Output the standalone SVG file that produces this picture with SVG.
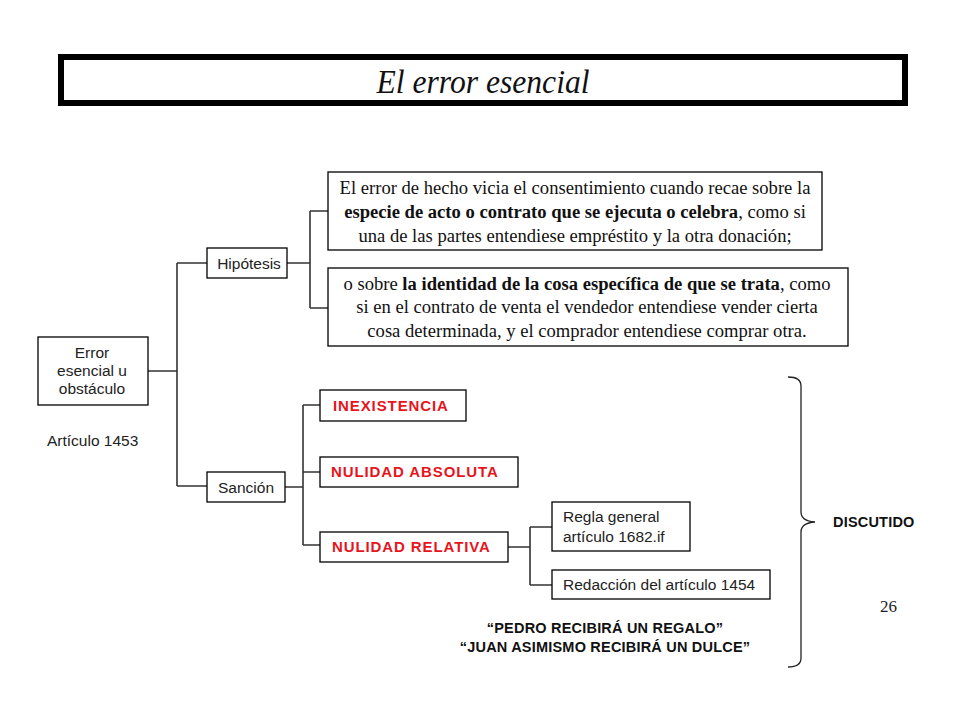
<svg xmlns="http://www.w3.org/2000/svg" width="960" height="720" viewBox="0 0 960 720">
<style>
.box{fill:#fff;stroke:#000;stroke-width:1.3}
.s{font-family:"Liberation Sans",Arial,sans-serif;font-size:15.5px;fill:#222}
.r{font-family:"Liberation Sans",Arial,sans-serif;font-size:15px;font-weight:bold;fill:#e8141c;letter-spacing:0.9px}
.b{font-family:"Liberation Sans",Arial,sans-serif;font-size:14.5px;font-weight:bold;fill:#111;letter-spacing:0.2px}
.t{font-family:"Liberation Serif","Times New Roman",serif;font-size:18.6px;fill:#111}
.c{fill:none;stroke:#333;stroke-width:1.6}
</style>
<rect width="960" height="720" fill="#fff"/>
<g id="title">
<rect x="61" y="57" width="844" height="46" fill="#fff" stroke="#000" stroke-width="6"/>
<text x="483" y="93" text-anchor="middle" textLength="213" lengthAdjust="spacingAndGlyphs" font-family="Liberation Serif,'Times New Roman',serif" font-style="italic" font-size="34" fill="#111">El error esencial</text>
</g>
<g id="connectors">
<path class="c" d="M148 371H177M177 263V486M177 263H207M177 486H207"/>
<path class="c" d="M287 263H310M310 211V308M310 211H328M310 308H328"/>
<path class="c" d="M285 487H303M303 405V545M303 405H320M303 472H320M303 545H320"/>
<path class="c" d="M508 547H530M530 527V585M530 527H552M530 585H552"/>
<path fill="none" stroke="#222" stroke-width="1.3" d="M788 377Q801 377 801 386V512Q801 521 815 522Q801 523 801 532V658Q801 667 788 667"/>
</g>
<g id="error">
<rect class="box" x="38" y="337" width="110" height="68"/>
<text class="s" text-anchor="middle" x="92" y="358">Error</text>
<text class="s" text-anchor="middle" x="92" y="376">esencial u</text>
<text class="s" text-anchor="middle" x="92" y="394">obstáculo</text>
</g>
<g id="articulo"><text class="s" x="47" y="446">Artículo 1453</text></g>
<g id="hipotesis">
<rect class="box" x="207" y="248" width="80" height="30"/>
<text class="s" text-anchor="middle" x="249" y="269">Hipótesis</text>
</g>
<g id="hip1">
<rect class="box" x="328" y="172" width="494" height="78"/>
<text class="t" text-anchor="middle" x="575" y="194">El error de hecho vicia el consentimiento cuando recae sobre la</text>
<text class="t" text-anchor="middle" x="575" y="218"><tspan font-weight="bold">especie de acto o contrato que se ejecuta o celebra</tspan>, como si</text>
<text class="t" text-anchor="middle" x="575" y="242">una de las partes entendiese empréstito y la otra donación;</text>
</g>
<g id="hip2">
<rect class="box" x="328" y="268" width="520" height="78"/>
<text class="t" text-anchor="middle" x="587" y="290">o sobre <tspan font-weight="bold">la identidad de la cosa específica de que se trata</tspan>, como</text>
<text class="t" text-anchor="middle" x="587" y="313">si en el contrato de venta el vendedor entendiese vender cierta</text>
<text class="t" text-anchor="middle" x="587" y="337">cosa determinada, y el comprador entendiese comprar otra.</text>
</g>
<g id="sancion">
<rect class="box" x="207" y="472" width="78" height="30"/>
<text class="s" text-anchor="middle" x="246" y="493">Sanción</text>
</g>
<g id="inexistencia">
<rect class="box" x="320" y="390" width="146" height="31"/>
<text class="r" x="333" y="411">INEXISTENCIA</text>
</g>
<g id="nulabs">
<rect class="box" x="320" y="457" width="198" height="30"/>
<text class="r" x="331" y="477">NULIDAD  ABSOLUTA</text>
</g>
<g id="nulrel">
<rect class="box" x="320" y="532" width="188" height="30"/>
<text class="r" x="332" y="552">NULIDAD  RELATIVA</text>
</g>
<g id="regla">
<rect class="box" x="552" y="502" width="138" height="49"/>
<text class="s" x="563" y="522">Regla general</text>
<text class="s" x="563" y="542">artículo 1682.if</text>
</g>
<g id="redaccion">
<rect class="box" x="552" y="570" width="218" height="29"/>
<text class="s" x="563" y="590">Redacción del artículo 1454</text>
</g>
<g id="quotes">
<text class="b" text-anchor="middle" x="605" y="633">“PEDRO RECIBIRÁ UN REGALO”</text>
<text class="b" text-anchor="middle" x="605" y="652">“JUAN ASIMISMO RECIBIRÁ UN DULCE”</text>
</g>
<g id="discutido"><text class="b" x="833" y="527" letter-spacing="1">DISCUTIDO</text></g>
<g id="page"><text x="880" y="612" font-family="Liberation Serif,serif" font-size="17" fill="#222">26</text></g>
</svg>
